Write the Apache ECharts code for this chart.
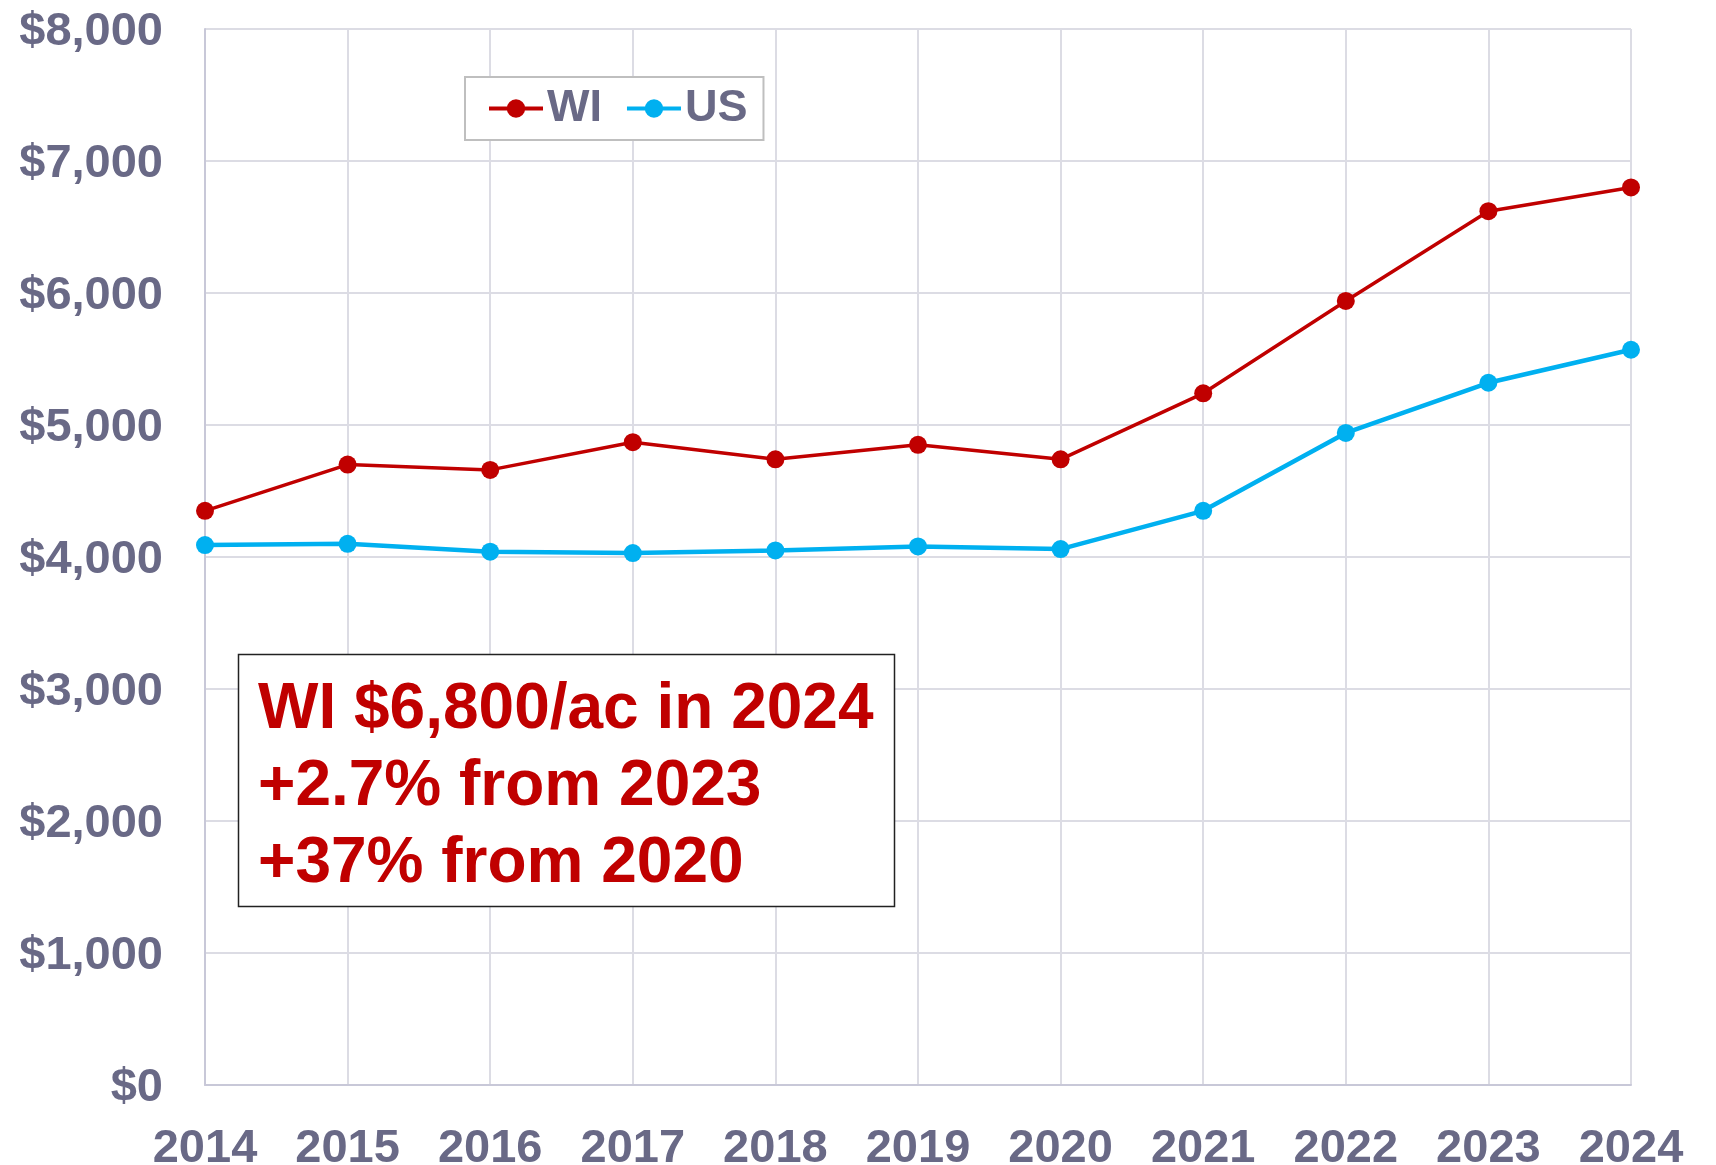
<!DOCTYPE html>
<html>
<head>
<meta charset="utf-8">
<script src="https://cdn.jsdelivr.net/npm/echarts@6/dist/echarts.min.js"></script>
<style>
html,body{margin:0;padding:0;background:#fff;}
#chart{width:1716px;height:1165px;}
</style>
</head>
<body>
<div id="chart"></div>
<script>
const years = ['2014','2015','2016','2017','2018','2019','2020','2021','2022','2023','2024'];
const wiValues = [4350, 4700, 4660, 4870, 4740, 4850, 4740, 5240, 5940, 6620, 6800];
const usValues = [4090, 4100, 4040, 4030, 4050, 4080, 4060, 4350, 4940, 5320, 5570];
const yTicks = [0, 1000, 2000, 3000, 4000, 5000, 6000, 7000, 8000];
const noteLines = ['WI $6,800/ac in 2024', '+2.7% from 2023', '+37% from 2020'];

const labelColor = '#696986';
const gridColor = '#DCDCE4';
const axisColor = '#C8C8D8';
const font = 'Arial, "Liberation Sans", sans-serif';

const chart = echarts.init(document.getElementById('chart'));
chart.setOption({
  animation: false,
  backgroundColor: '#ffffff',
  grid: { left: 205, right: 85, top: 29, bottom: 80, containLabel: false, outerBoundsMode: 'none' },
  legend: {
    left: 465, top: 77,
    padding: [9, 16, 9, 22],
    itemGap: 23,
    itemWidth: 54, itemHeight: 23,
    borderColor: '#BFBFBF', borderWidth: 2,
    backgroundColor: '#ffffff',
    lineStyle: { width: 4 },
    textStyle: { fontFamily: font, fontWeight: 'bold', fontSize: 45, color: labelColor, padding: [0, 0, 0, -1] },
    data: ['WI', 'US']
  },
  xAxis: {
    type: 'category',
    data: years,
    boundaryGap: false,
    axisTick: { show: false },
    axisLine: { lineStyle: { color: axisColor, width: 2 } },
    splitLine: { show: true, lineStyle: { color: gridColor, width: 2 } },
    axisLabel: { fontFamily: font, fontWeight: 'bold', fontSize: 47, color: labelColor, margin: 41, interval: 0 }
  },
  yAxis: {
    type: 'value',
    min: yTicks[0], max: yTicks[yTicks.length - 1], interval: 1000,
    axisLine: { show: true, lineStyle: { color: axisColor, width: 2 } },
    axisTick: { show: false },
    splitLine: { show: true, lineStyle: { color: gridColor, width: 2 } },
    axisLabel: {
      color: labelColor, margin: 42,
      formatter: v => '{v|$' + v.toLocaleString('en-US') + '}',
      rich: {
        v: { fontFamily: font, fontWeight: 'bold', fontSize: 47, color: labelColor, padding: [7, 0, 0, 0] }
      }
    }
  },
  series: [
    {
      name: 'WI', type: 'line', data: wiValues,
      symbol: 'circle', symbolSize: 18,
      lineStyle: { color: '#C00000', width: 3.5 },
      itemStyle: { color: '#C00000' },
      z: 3
    },
    {
      name: 'US', type: 'line', data: usValues,
      symbol: 'circle', symbolSize: 18,
      lineStyle: { color: '#00B0F0', width: 4.5 },
      itemStyle: { color: '#00B0F0' },
      z: 2
    }
  ],
  graphic: [
    {
      type: 'rect',
      shape: { x: 238.5, y: 654.5, width: 656, height: 252 },
      style: { fill: '#ffffff', stroke: '#222222', lineWidth: 1.5 },
      z: 10
    },
    {
      type: 'text',
      x: 258, y: 672,
      style: {
        text: noteLines.join('\n'),
        font: 'bold 64px ' + font,
        fill: '#C00000',
        lineHeight: 77,
        verticalAlign: 'top',
        align: 'left'
      },
      z: 11
    }
  ]
});
</script>
</body>
</html>
